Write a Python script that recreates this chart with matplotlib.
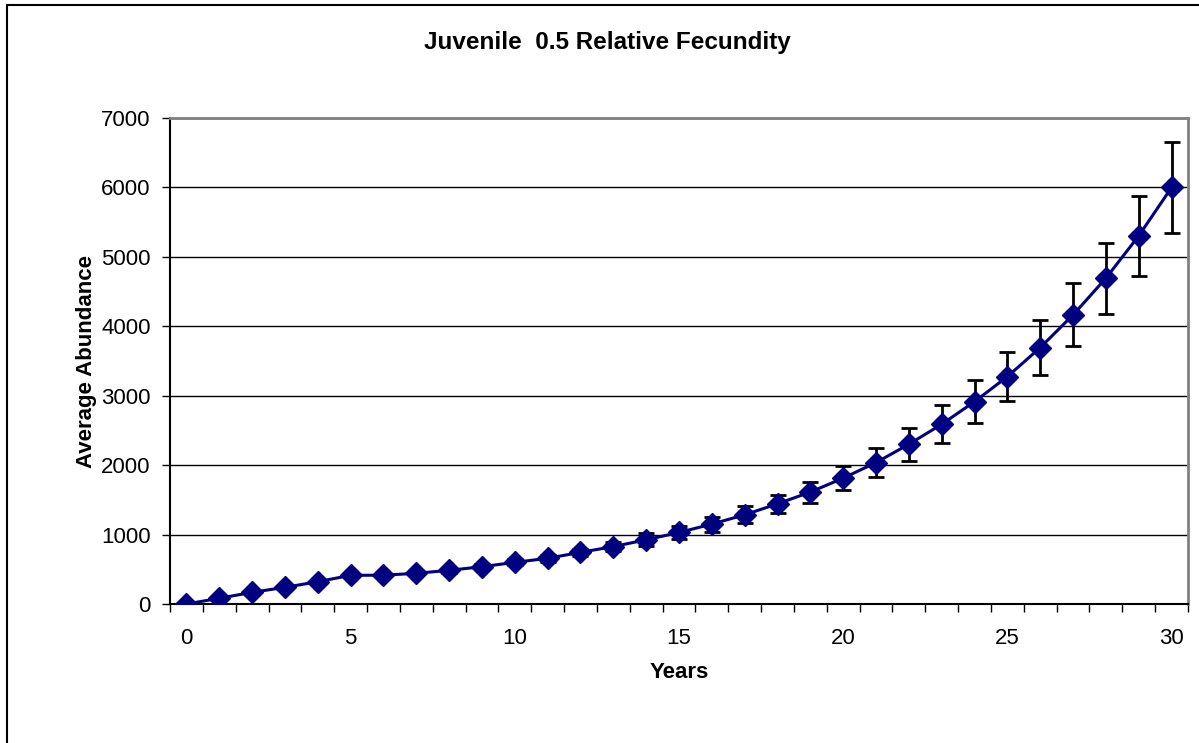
import numpy as np
import matplotlib
matplotlib.use("Agg")
from matplotlib import pyplot as plt
from matplotlib.patches import Rectangle

plt.rcParams['font.family'] = ['Liberation Sans', 'DejaVu Sans']

years = list(range(31))
abundance = [0, 82, 168, 240, 321, 413, 415, 442, 485, 537, 600, 658, 744, 827, 925,
             1030, 1151, 1285, 1443, 1612, 1813, 2037, 2301, 2589, 2915, 3275, 3693,
             4164, 4693, 5303, 5999]
errors = [0, 5, 10, 15, 20, 25, 28, 30, 35, 40, 45, 50, 55, 67, 93,
          96, 108, 120, 134, 151, 177, 206, 235, 271, 305, 348, 396,
          454, 509, 576, 656]
yticks = [0, 1000, 2000, 3000, 4000, 5000, 6000, 7000]
xlabels = [0, 5, 10, 15, 20, 25, 30]

fig = plt.figure(figsize=(11.99, 7.43), dpi=100)
ax = fig.add_axes([170/1199, 1 - 604/743, (1188 - 170)/1199, (604 - 118)/743])

# outer chart border (runs off the right and bottom edges)
fig.patches.append(Rectangle((6.5/1199, -0.1), 1.2, 1 - 5.5/743 + 0.1,
                             transform=fig.transFigure, fill=False,
                             edgecolor='black', linewidth=1.5))

ax.errorbar(years, abundance, yerr=errors, fmt='none', ecolor='black',
            elinewidth=2, capsize=5.5, capthick=2, zorder=2)
ax.plot(years, abundance, color='#000080', linewidth=2.2, marker='D',
        markersize=11, markerfacecolor='#000080', markeredgecolor='#000080', zorder=3)

ax.set_xlim(-0.5, 30.5)
ax.set_ylim(0, 7000)
ax.set_yticks(yticks)
ax.set_yticklabels([str(v) for v in yticks], fontsize=16)
ax.yaxis.grid(True, color='black', linewidth=1)
ax.set_axisbelow(True)

# category-style x axis: ticks between points, labels on points
ax.set_xticks(np.arange(-0.5, 31, 1))
ax.set_xticklabels([])
ax.set_xticks(xlabels, minor=True)
ax.set_xticklabels([str(v) for v in xlabels], minor=True, fontsize=16)
ax.tick_params(axis='x', which='minor', length=0, pad=17)
ax.tick_params(axis='x', which='major', length=6, width=1, direction='out')
ax.tick_params(axis='y', length=6, width=1, direction='out', pad=8)

for s in ['top', 'right']:
    ax.spines[s].set_color('#808080')
    ax.spines[s].set_linewidth(2)
for s in ['left', 'bottom']:
    ax.spines[s].set_color('black')
    ax.spines[s].set_linewidth(1.5)

ax.set_xlabel('Years', fontsize=16, fontweight='bold', labelpad=10)
ax.set_ylabel('Average Abundance', fontsize=16, fontweight='bold', labelpad=3)
fig.text(607/1199, 1 - 42/743, 'Juvenile  0.5 Relative Fecundity', ha='center',
         va='center', fontsize=17.5, fontweight='bold')

fig.savefig('out.png', dpi=100)
